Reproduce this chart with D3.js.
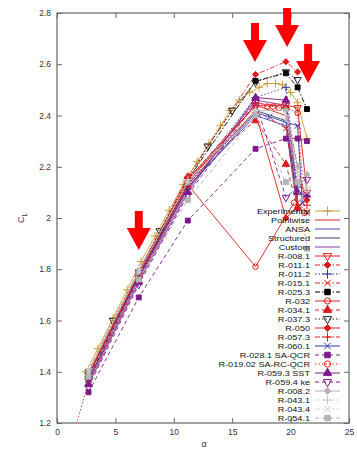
<!DOCTYPE html>
<html lang="en">
  <head>
    <title>CL vs alpha</title>
    <meta charset="utf-8">
    <script src="https://d3js.org/d3.v7.min.js"></script>
    <style>
      body { margin: 0; background: #fff; }
      svg { display: block; font-family: "Liberation Sans", Arial, sans-serif; }
      .ax path, .ax line { stroke: #666; }
      .ax text { fill: #333; font-size: 8.5px; }
    </style>
  </head>
  <body>
    <div id="main"></div>
    <script>
      // legend order = draw order
      var seriesNames = ["Experimental", "Pointwise", "ANSA", "Structured", "Custom", "R-008.1", "R-011.1", "R-011.2",
        "R-015.1", "R-025.3", "R-032", "R-034.1", "R-037.3", "R-050", "R-057.3", "R-060.1", "R-028.1 SA-QCR",
        "R-019.02 SA-RC-QCR", "R-059.3 SST", "R-059.4 ke", "R-008.2", "R-043.1", "R-043.4", "R-054.1"];

      // common angle grid, most runs
      var alphaGrid = [2.7, 7, 11.2, 17, 19.6, 20.6, 21.4];

      var alphaExperimental = [2.5, 3.5, 4.8, 6, 7.2, 8.4, 9.6, 10.8, 12, 13, 14, 14.8, 15.6, 16.5, 17.3, 18, 18.7, 19.3, 20, 20.6, 21.4];
      var clExperimental = [1.40, 1.49, 1.61, 1.72, 1.83, 1.93, 2.03, 2.13, 2.22, 2.29, 2.36, 2.42, 2.46, 2.49, 2.51, 2.525, 2.525, 2.52, 2.49, 2.45, 2.31];
      var clPointwise = [1.38, 1.78, 2.14, 2.44, 2.40, 2.05, null];
      var clANSA = [1.37, 1.77, 2.12, 2.40, 2.36, 2.02, null];
      var clStructured = [1.38, 1.78, 2.13, 2.42, 2.38, 2.06, null];
      var clCustom = [1.36, 1.76, 2.11, 2.46, 2.44, 2.08, null];
      var clR0081 = [1.39, 1.79, 2.15, 2.44, 2.44, 2.43, 2.10];
      var clR0111 = [1.40, 1.79, 2.16, 2.56, 2.61, 2.57, null];
      var clR0112 = [1.38, 1.78, 2.13, 2.47, 2.51, 2.12, null];
      var clR0151 = [1.38, 1.78, 2.13, 2.42, 2.35, 2.06, 2.02];
      var clR0253 = [1.39, 1.79, 2.15, 2.535, 2.565, 2.51, 2.425];
      var alphaR032 = [2.7, 7, 11.2, 17, 20.3];
      var clR032 = [1.37, 1.77, 2.13, 1.81, 2.06];
      var clR0341 = [1.38, 1.78, 2.16, 2.38, 2.21, 2.04, null];
      var alphaR0373 = [2.7, 4.8, 8.8, 12.9, 15, 17, 19.6, 20.6];
      var clR0373 = [1.40, 1.60, 1.95, 2.28, 2.42, 2.53, 2.57, 2.54];
      var clR050 = [1.39, 1.78, 2.15, 2.41, 2.00, 2.04, 2.07];
      var clR0573 = [1.39, 1.78, 2.15, 2.45, 2.43, 2.20, 2.05];
      var alphaR0601 = [2.7, 7, 11.2, 17, 18.2, 19.5, 20.6, 21.0];
      var clR0601 = [1.37, 1.77, 2.12, 2.41, 2.395, 2.375, 2.36, 2.06];
      var clR0281 = [1.32, 1.69, 1.99, 2.27, 2.31, 2.31, 2.30];
      var alphaR01902 = [1.5, 2.7, 7, 11.2, 17, 18, 18.5, 19, 19.6, 20.6, 21.2];
      var clR01902 = [1.17, 1.36, 1.76, 2.12, 2.44, 2.435, 2.435, 2.43, 2.43, 2.41, 2.02];
      var clR0593 = [1.35, 1.75, 2.10, 2.47, 2.46, 2.10, 2.09];
      var clR0594 = [1.34, 1.74, 2.09, 2.45, 2.08, null, 2.15];
      var clR0082 = [1.40, 1.79, 2.14, 2.42, 2.42, 2.20, 2.17];
      var clR0431 = [1.41, 1.80, 2.15, 2.42, 2.40, 2.18, 2.12];
      var clR0434 = [1.40, 1.79, 2.14, 2.41, 2.38, 2.16, 2.10];
      var clR0541 = [1.38, 1.76, 2.07, 2.40, 2.14, 2.14, 1.88];

      var seriesAlpha = [alphaExperimental, alphaGrid, alphaGrid, alphaGrid, alphaGrid, alphaGrid, alphaGrid, alphaGrid,
        alphaGrid, alphaGrid, alphaR032, alphaGrid, alphaR0373, alphaGrid, alphaGrid, alphaR0601, alphaGrid,
        alphaR01902, alphaGrid, alphaGrid, alphaGrid, alphaGrid, alphaGrid, alphaGrid];
      var seriesCL = [clExperimental, clPointwise, clANSA, clStructured, clCustom, clR0081, clR0111, clR0112,
        clR0151, clR0253, clR032, clR0341, clR0373, clR050, clR0573, clR0601, clR0281,
        clR01902, clR0593, clR0594, clR0082, clR0431, clR0434, clR0541];

      var xTicks = [0, 5, 10, 15, 20, 25];
      var yTicks = [1.2, 1.4, 1.6, 1.8, 2.0, 2.2, 2.4, 2.6, 2.8];
      var yTickLabels = ["1.2", "1.4", "1.6", "1.8", "2", "2.2", "2.4", "2.6", "2.8"];

      // red annotation arrows, tip position in data units
      var arrowAlpha = [7.0, 16.95, 19.7, 21.5];
      var arrowCL = [1.875, 2.609, 2.667, 2.527];

      // styles: colour, dash, marker, filled
      var RED = "#dc1c1c", BLUE = "#2b35a8", PURPLE = "#7d1a8c", GRAY = "#b4b4b4", LGRAY = "#cacaca";
      var styles = [
        ["#c9a030", "", "plus", false],
        [RED, "", null, false],
        ["#4a4ab8", "", null, false],
        ["#3c3c6c", "", null, false],
        ["#8a3aa6", "", null, false],
        [RED, "", "itri", false],
        [RED, "5,2,1.5,2", "diamond", true],
        [BLUE, "1.5,2", "plus", false],
        [RED, "5,2,1.5,2", "x", false],
        ["#000", "5,2,1.5,2", "square", true],
        [RED, "", "circle", false],
        [RED, "4,3", "tri", true],
        ["#222", "1.5,2", "itri", false],
        [RED, "", "diamond", true],
        [RED, "5,2,1.5,2", "plus", false],
        [BLUE, "", "x", false],
        [PURPLE, "4,3", "square", true],
        [RED, "1.5,2", "circle", false],
        [PURPLE, "", "tri", true],
        [PURPLE, "4,3", "itri", false],
        [GRAY, "", "diamond", true],
        [LGRAY, "1.5,2", "plus", false],
        [LGRAY, "1.5,2", "x", false],
        [GRAY, "4,3", "square", true]
      ];

      var W = 357, H = 450;
      var x = d3.scaleLinear().domain([0, 25]).range([57, 349]);
      var y = d3.scaleLinear().domain([1.2, 2.8]).range([423, 13]);

      var svg = d3.select("#main").append("svg").attr("width", W).attr("height", H);

      svg.append("clipPath").attr("id", "clip").append("rect")
        .attr("x", x(0)).attr("y", y(2.8)).attr("width", x(25) - x(0)).attr("height", y(1.2) - y(2.8));

      // axes, ticks inward on all four sides
      svg.append("g").attr("class", "ax").attr("transform", "translate(" + x(0) + ",0)")
        .call(d3.axisLeft(y).tickValues(yTicks).tickFormat(function(d, i) { return yTickLabels[i]; })
          .tickSizeInner(-5).tickSizeOuter(0).tickPadding(6));
      svg.append("g").attr("class", "ax").attr("transform", "translate(" + x(25) + ",0)")
        .call(d3.axisRight(y).tickValues(yTicks).tickFormat("").tickSizeInner(-5).tickSizeOuter(0));
      svg.append("g").attr("class", "ax").attr("transform", "translate(0," + y(1.2) + ")")
        .call(d3.axisBottom(x).tickValues(xTicks).tickFormat(d3.format("d")).tickSizeInner(-5).tickSizeOuter(0).tickPadding(6));
      svg.append("g").attr("class", "ax").attr("transform", "translate(0," + y(2.8) + ")")
        .call(d3.axisTop(x).tickValues(xTicks).tickFormat("").tickSizeInner(-5).tickSizeOuter(0));
      svg.selectAll(".ax .domain").remove();
      svg.append("rect").attr("x", x(0)).attr("y", y(2.8)).attr("width", x(25) - x(0)).attr("height", y(1.2) - y(2.8))
        .attr("fill", "none").attr("stroke", "#666").attr("stroke-width", 1.2);//border

      // axis titles
      var yt = svg.append("text").attr("transform", "translate(24," + y(2.0) + ") rotate(-90)")
        .attr("text-anchor", "middle").attr("fill", "#333").style("font-size", "9px");
      yt.append("tspan").text("C");
      yt.append("tspan").attr("dy", 2.5).style("font-size", "6.5px").text("L");
      svg.append("text").attr("x", x(12.6)).attr("y", 447).attr("text-anchor", "middle")
        .attr("fill", "#333").style("font-size", "9px").text("\u03b1");

      var symbols = { plus: d3.symbolPlus, x: d3.symbolTimes, square: d3.symbolSquare, diamond: d3.symbolDiamond2,
        tri: d3.symbolTriangle, itri: d3.symbolTriangle, circle: d3.symbolCircle };
      function marker(g, st, cx, cy, size) {
        if (!st[2]) return;
        var sym = d3.symbol().type(symbols[st[2]]).size(size);
        g.append("path").attr("d", sym())
          .attr("transform", "translate(" + cx + "," + cy + ")" + (st[2] == "itri" ? " rotate(180)" : ""))
          .attr("fill", st[3] ? st[0] : "none")
          .attr("stroke", st[0]).attr("stroke-width", 1);
      }

      var plot = svg.append("g").attr("clip-path", "url(#clip)");
      var line = d3.line().defined(function(d) { return d[1] != null; })
        .x(function(d) { return x(d[0]); }).y(function(d) { return y(d[1]); });

      seriesNames.forEach(function(name, i) {
        var st = styles[i];
        var pts = seriesAlpha[i].map(function(a, j) { return [a, seriesCL[i][j]]; }).filter(function(d) { return d[1] != null; });
        var g = plot.append("g");
        g.append("path").datum(pts).attr("d", line).attr("fill", "none")
          .attr("stroke", st[0]).attr("stroke-width", 0.9).attr("stroke-dasharray", st[1]);
        pts.forEach(function(d) { marker(g, st, x(d[0]), y(d[1]), 24); });
      });//draw runs

      // legend: rows are tight, so a small font stretched sideways
      var leg = svg.append("g");
      seriesNames.forEach(function(name, i) {
        var st = styles[i], ly = 211 + i * 9.0;
        leg.append("text").attr("transform", "translate(310," + ly + ") scale(1.2,1)")
          .attr("dy", "0.35em").attr("text-anchor", "end")
          .attr("fill", "#111").style("font-size", "7.6px").text(name);
        leg.append("line").attr("x1", 315).attr("x2", 340).attr("y1", ly).attr("y2", ly)
          .attr("stroke", st[0]).attr("stroke-width", 1).attr("stroke-dasharray", st[1]);
        marker(leg, st, 327.5, ly, 30);
      });

      // red arrows
      arrowAlpha.forEach(function(a, i) {
        var tx = x(a), ty = y(arrowCL[i]);
        var p = [[0, 0], [-12, -22], [-4, -22], [-4, -39], [4, -39], [4, -22], [12, -22]];
        svg.append("polygon").attr("points", p.map(function(q) { return (tx + q[0]) + "," + (ty + q[1]); }).join(" "))
          .attr("fill", "#ff0000");
      });
    </script>
  </body>
</html>
